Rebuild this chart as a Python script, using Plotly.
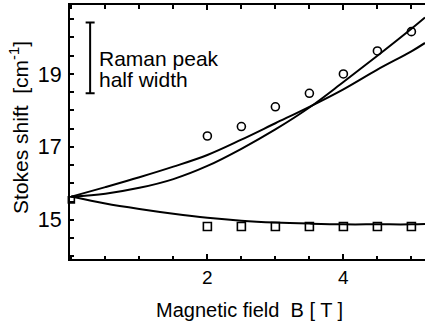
import plotly.graph_objects as go

# ---- data ----
field_pts = [2.0, 2.5, 3.0, 3.5, 4.0, 4.5, 5.0]
upper_pts = [17.30, 17.56, 18.10, 18.47, 19.00, 19.63, 20.16]   # circles
lower_pts = [14.82, 14.82, 14.82, 14.82, 14.82, 14.82, 14.82]   # squares
start_x = [0.0]
start_y = [15.55]

curve_x = [0.0, 0.5, 1.0, 1.5, 2.0, 2.5, 3.0, 3.5, 4.0, 4.5, 5.0, 5.2]
curve_a = [15.64, 15.90, 16.17, 16.46, 16.78, 17.20, 17.65, 18.10, 18.58, 19.12, 19.62, 19.85]
curve_b = [15.64, 15.72, 15.88, 16.12, 16.48, 16.95, 17.48, 18.08, 18.78, 19.50, 20.24, 20.55]
curve_c = [15.64, 15.45, 15.30, 15.17, 15.06, 14.98, 14.93, 14.90, 14.88, 14.88, 14.88, 14.89]

bar_x = [0.276]
bar_y = [19.44]
bar_half = [0.97]

x_ticks = [2, 4]
y_ticks = [15, 17, 19]

FONT = "Liberation Sans, Arial, sans-serif"
BLACK = "#000000"

fig = go.Figure()
for cy in (curve_a, curve_b, curve_c):
    fig.add_trace(go.Scatter(x=curve_x, y=cy, mode="lines", line=dict(color=BLACK, width=2, shape="spline"),
                             showlegend=False, hoverinfo="skip"))
fig.add_trace(go.Scatter(x=field_pts, y=upper_pts, mode="markers",
                         marker=dict(symbol="circle-open", size=8, color=BLACK, line=dict(width=1.6)),
                         showlegend=False))
fig.add_trace(go.Scatter(x=field_pts, y=lower_pts, mode="markers",
                         marker=dict(symbol="square-open", size=8, color=BLACK, line=dict(width=1.6)),
                         showlegend=False))
fig.add_trace(go.Scatter(x=start_x, y=start_y, mode="markers", cliponaxis=False,
                         marker=dict(symbol="square-open", size=6, color=BLACK, line=dict(width=1.6)),
                         showlegend=False))
fig.add_trace(go.Scatter(x=bar_x, y=bar_y, mode="markers", marker=dict(size=1, color="rgba(0,0,0,0)"),
                         error_y=dict(type="data", array=bar_half, symmetric=True, color=BLACK,
                                      thickness=2, width=4.5),
                         showlegend=False))

fig.update_layout(
    width=425, height=329,
    margin=dict(l=70, r=0, t=5, b=70),
    paper_bgcolor="white", plot_bgcolor="white",
    font=dict(family=FONT, color=BLACK, size=19),
    xaxis=dict(range=[-0.02, 5.2], tickmode="array", tickvals=x_ticks, ticks="inside", ticklen=5,
               tickwidth=1.5, tickcolor=BLACK, showline=True, linecolor=BLACK, linewidth=2,
               mirror="ticks", showgrid=False, zeroline=False, tickfont=dict(size=19),
               minor=dict(tickmode="linear", tick0=0, dtick=0.5, ticks="inside", ticklen=3.5,
                          tickwidth=1.5, tickcolor=BLACK, showgrid=False)),
    yaxis=dict(range=[13.93, 20.89], tickmode="array", tickvals=y_ticks, ticks="inside", ticklen=4,
               tickwidth=1.5, tickcolor=BLACK, showline=True, linecolor=BLACK, linewidth=2,
               mirror=False, showgrid=False, zeroline=False, tickfont=dict(size=21.5),
               ticklabelstandoff=2,
               minor=dict(tickmode="linear", tick0=0, dtick=0.5, ticks="inside", ticklen=3.5,
                          tickwidth=1.5, tickcolor=BLACK, showgrid=False)),
    annotations=[
        dict(text="Magnetic field  B [ T ]", xref="paper", yref="paper", x=0.507, y=0, yshift=-51,
             xanchor="center", yanchor="middle", showarrow=False, font=dict(size=20)),
        dict(text="Stokes shift  [cm<sup>-1</sup>]", xref="paper", yref="paper", x=0, xshift=-51,
             y=0.516, xanchor="center", yanchor="middle", textangle=-90, showarrow=False,
             font=dict(size=21)),
        dict(text="Raman peak", xref="x", yref="paper", x=0.37, y=1, yshift=-53,
             xanchor="left", yanchor="middle", showarrow=False, font=dict(size=21)),
        dict(text="half width", xref="x", yref="paper", x=0.37, y=1, yshift=-74,
             xanchor="left", yanchor="middle", showarrow=False, font=dict(size=21)),
    ],
)

fig.write_html("out.html", config={"displayModeBar": False},
               post_script="document.body.style.margin='0';document.body.style.overflow='hidden';")
